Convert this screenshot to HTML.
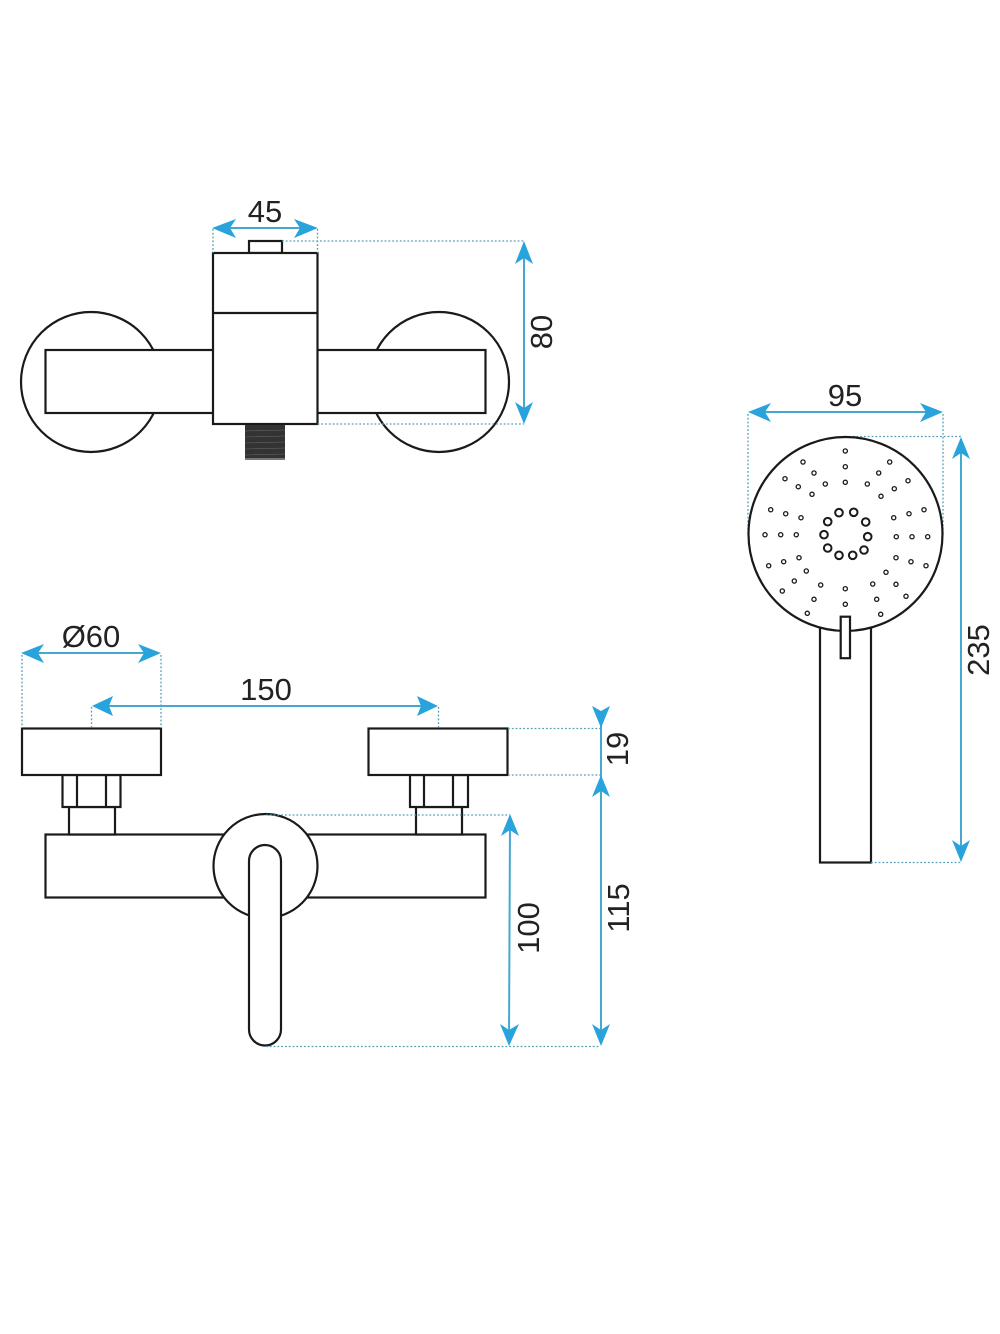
<!DOCTYPE html>
<html><head><meta charset="utf-8"><style>
html,body{margin:0;padding:0;background:#fff}
svg{display:block}
text{font-family:"Liberation Sans",sans-serif;font-size:31px;fill:#222;text-anchor:middle}
.k{fill:#fff;stroke:#1a1a1a;stroke-width:2.2}
.n{fill:none;stroke:#1a1a1a;stroke-width:2.2}
.d{fill:none;stroke:#4f9fb5;stroke-width:1.3;stroke-dasharray:1.8 2}
.l{fill:none;stroke:#45a9cf;stroke-width:2}
.a{fill:#29a3dc}
.s{fill:none;stroke:#1a1a1a;stroke-width:1.3}
.b{fill:none;stroke:#1a1a1a;stroke-width:2}
</style></head><body>
<svg width="1000" height="1334" viewBox="0 0 1000 1334" xmlns="http://www.w3.org/2000/svg">

<!-- top view -->
<circle class="k" cx="91" cy="382" r="70"/>
<circle class="k" cx="439" cy="382" r="70"/>
<rect class="k" x="45.500" y="350" width="440" height="63"/>
<rect class="k" x="249" y="241" width="33" height="12"/>
<rect class="k" x="213" y="253" width="104.500" height="171"/>
<line class="n" x1="213" y1="313" x2="317.500" y2="313"/>
<rect x="245" y="425" width="40" height="35" fill="#333"/>
<g stroke="#666" stroke-width="0.600"><line x1="245" y1="431" x2="285" y2="430"/><line x1="245" y1="437" x2="285" y2="436"/><line x1="245" y1="443" x2="285" y2="442"/><line x1="245" y1="449" x2="285" y2="448"/><line x1="245" y1="455" x2="285" y2="454"/></g>
<rect x="245" y="458" width="40" height="2" fill="#777"/>

<path class="d" d="M213 229V253M317.500 229V253M282 241H524M317.500 424H524"/>
<line class="l" x1="220" y1="228" x2="310" y2="228"/>
<path class="a" d="M212 228L236 219L230 228L236 238Z"/>
<path class="a" d="M318 228L294 219L300 228L294 238Z"/>
<text x="265" y="222">45</text>
<line class="l" x1="524" y1="248" x2="524" y2="418"/>
<path class="a" d="M524 241L515 264L524 258L533 264Z"/>
<path class="a" d="M524 424L515 402L524 408L533 402Z"/>
<text transform="translate(552,332) rotate(-90)">80</text>

<!-- front view -->
<rect class="k" x="45.500" y="834.500" width="440" height="63"/>
<rect class="k" x="69" y="807" width="46" height="27.500"/>
<rect class="k" x="416" y="807" width="46" height="27.500"/>
<rect class="k" x="62.500" y="775" width="58" height="32"/>
<path class="n" d="M77 775V806M106 775V806"/>
<rect class="k" x="410" y="775" width="58" height="32"/>
<path class="n" d="M424 775V806M453 775V806"/>
<rect class="k" x="22" y="728.500" width="139" height="46.500"/>
<rect class="k" x="368.500" y="728.500" width="139" height="46.500"/>
<circle class="k" cx="265.500" cy="866" r="52"/>
<rect class="k" x="249" y="845" width="32" height="200.500" rx="16" ry="16"/>

<path class="d" d="M22 655V728M161 655V728M91.500 707V728M438.500 707V728M508 728.500H600M508 775H600M266 815H510M266 1046.500H600"/>
<line class="l" x1="30" y1="653" x2="154" y2="653"/>
<path class="a" d="M21 653L44 644L38 653L44 663Z"/>
<path class="a" d="M161 653L138 644L144 653L138 663Z"/>
<text x="91" y="647">Ø60</text>
<line class="l" x1="100" y1="706" x2="430" y2="706"/>
<path class="a" d="M92 706L113 696L109 706L113 716Z"/>
<path class="a" d="M438 706L417 696L421 706L417 716Z"/>
<text x="266" y="700">150</text>

<line class="l" x1="601" y1="720" x2="601" y2="1040"/>
<path class="a" d="M601 728L592 706L601 711L610 706Z"/>
<path class="a" d="M601 775L592 797L601 791L610 797Z"/>
<path class="a" d="M601 1046L592 1024L601 1030L610 1024Z"/>
<line class="l" x1="510" y1="822" x2="509" y2="1040"/>
<path class="a" d="M510 814L501 836L510 830L519 836Z"/>
<path class="a" d="M509 1046L500 1024L509 1030L519 1024Z"/>
<text transform="translate(628,749) rotate(-90)">19</text>
<text transform="translate(629,908) rotate(-90)">115</text>
<text transform="translate(539,928) rotate(-90)">100</text>

<!-- hand shower -->
<rect class="k" x="820" y="620" width="51" height="242.500"/>
<path class="d" d="M748 414V534M943 414V534M845 436.500H961M871 862.500H961"/>
<circle class="k" cx="845.500" cy="534" r="97"/>
<rect class="k" x="840.700" y="616.700" width="9.300" height="41.500"/>
<line class="l" x1="756" y1="412" x2="936" y2="412"/>
<path class="a" d="M748 412L771 403L765 412L771 422Z"/>
<path class="a" d="M943 412L920 403L926 412L920 422Z"/>
<text x="845" y="406">95</text>
<line class="l" x1="961" y1="444" x2="961" y2="856"/>
<path class="a" d="M961 437L952 459L961 453L970 459Z"/>
<path class="a" d="M961 862L952 840L961 846L970 840Z"/>
<text transform="translate(989,650) rotate(-90)">235</text>

<g class="s">
<circle cx="845.300" cy="451" r="2.100"/><circle cx="845.300" cy="466.700" r="2.100"/><circle cx="845.300" cy="482.300" r="2.100"/>
<circle cx="803" cy="462" r="2.100"/><circle cx="814" cy="473" r="2.100"/><circle cx="825.300" cy="484" r="2.100"/>
<circle cx="889.700" cy="462" r="2.100"/><circle cx="878.700" cy="473" r="2.100"/><circle cx="867.300" cy="484" r="2.100"/>
<circle cx="785" cy="478.700" r="2.100"/><circle cx="798.300" cy="486.700" r="2.100"/><circle cx="812" cy="494.300" r="2.100"/>
<circle cx="908" cy="480.700" r="2.100"/><circle cx="894.300" cy="488.700" r="2.100"/><circle cx="881" cy="496.300" r="2.100"/>
<circle cx="770.700" cy="509.700" r="2.100"/><circle cx="785.700" cy="513.700" r="2.100"/><circle cx="801" cy="517.700" r="2.100"/>
<circle cx="924" cy="509.700" r="2.100"/><circle cx="909" cy="513.700" r="2.100"/><circle cx="893.700" cy="517.700" r="2.100"/>
<circle cx="765" cy="534.700" r="2.100"/><circle cx="780.700" cy="534.700" r="2.100"/><circle cx="796.300" cy="534.700" r="2.100"/>
<circle cx="927.700" cy="536.700" r="2.100"/><circle cx="912" cy="536.700" r="2.100"/><circle cx="896.300" cy="536.700" r="2.100"/>
<circle cx="768.700" cy="565.700" r="2.100"/><circle cx="783.700" cy="561.700" r="2.100"/><circle cx="799" cy="557.700" r="2.100"/>
<circle cx="926" cy="565.700" r="2.100"/><circle cx="911" cy="561.700" r="2.100"/><circle cx="896" cy="557.700" r="2.100"/>
<circle cx="782.300" cy="591" r="2.100"/><circle cx="794.300" cy="581" r="2.100"/><circle cx="806.300" cy="571" r="2.100"/>
<circle cx="906" cy="596.300" r="2.100"/><circle cx="896" cy="584.300" r="2.100"/><circle cx="886" cy="572.300" r="2.100"/>
<circle cx="807.300" cy="613.300" r="2.100"/><circle cx="814" cy="599.300" r="2.100"/><circle cx="820.700" cy="585" r="2.100"/>
<circle cx="880.700" cy="614.300" r="2.100"/><circle cx="876.700" cy="599.300" r="2.100"/><circle cx="872.700" cy="584" r="2.100"/>
<circle cx="845.300" cy="604.300" r="2.100"/><circle cx="845.300" cy="588.700" r="2.100"/>
</g>
<g class="b">
<circle cx="839" cy="512.700" r="3.800"/><circle cx="853.700" cy="512.300" r="3.800"/><circle cx="865.700" cy="522" r="3.800"/><circle cx="867.700" cy="536.700" r="3.800"/><circle cx="864" cy="550" r="3.800"/><circle cx="852.700" cy="555.300" r="3.800"/><circle cx="839" cy="555.300" r="3.800"/><circle cx="827.700" cy="548" r="3.800"/><circle cx="824" cy="534.700" r="3.800"/><circle cx="827.700" cy="521.700" r="3.800"/>
</g>
</svg>
</body></html>
